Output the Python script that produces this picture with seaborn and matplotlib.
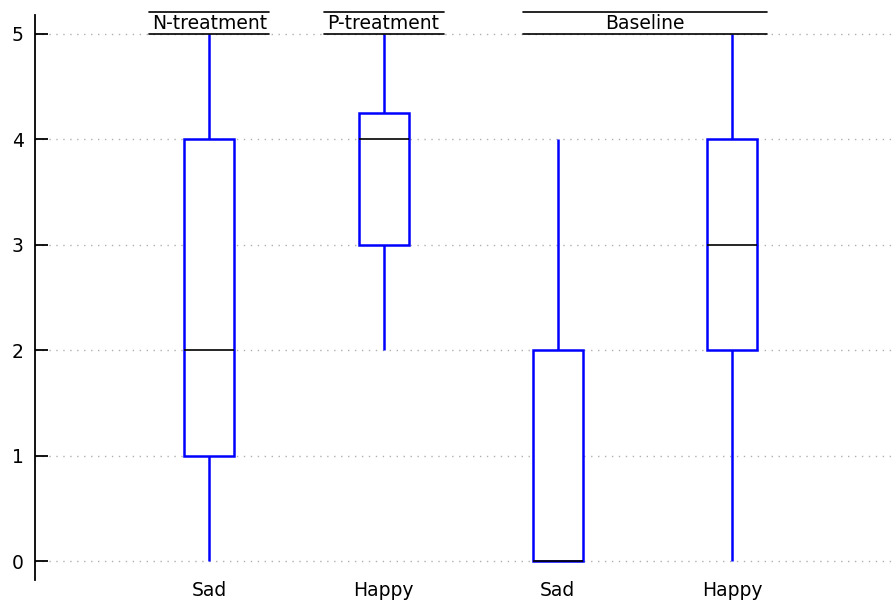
import matplotlib
matplotlib.use("Agg")
import matplotlib.pyplot as plt
import pandas as pd
import seaborn as sns

# Ratings per condition
n_sad = [0, 1, 1, 2, 2, 4, 4, 5]
p_happy = [2, 3, 3, 4, 4, 4, 5, 5]
base_sad = [0, 0, 0, 0, 0, 2, 2, 4]
base_happy = [0, 2, 2, 3, 3, 4, 4, 5]

slots = ["N-Sad", "P-Happy", "B-Sad", "B-Happy"]
tick_labels = ["Sad", "Happy", "Sad", "Happy"]
groups = ["N-treatment", "P-treatment", "Baseline"]
group_slots = [[0], [1], [2, 3]]
yticks = [0, 1, 2, 3, 4, 5]

rows = []
for slot, vals in zip(slots, [n_sad, p_happy, base_sad, base_happy]):
    rows += [(slot, v) for v in vals]
df = pd.DataFrame(rows, columns=["slot", "rating"])

sns.set_style("white")
plt.rcParams["font.family"] = ["DejaVu Sans"]
plt.rcParams["text.color"] = "black"
plt.rcParams["xtick.color"] = "black"
plt.rcParams["ytick.color"] = "black"

fs = 13.5
fig = plt.figure(figsize=(8.96, 6.04), dpi=100)
ax = fig.add_axes([35 / 896, 24 / 604, 1 - 35 / 896, (580 - 15) / 604])

blue = "#0000ff"
sns.boxplot(
    data=df, x="slot", y="rating", order=slots, ax=ax,
    width=0.287, whis=1.5, showcaps=False, showfliers=False,
    boxprops=dict(facecolor="white", edgecolor=blue, linewidth=1.8, zorder=3),
    whiskerprops=dict(color=blue, linewidth=1.8, zorder=2),
    medianprops=dict(color="black", linewidth=1.2, zorder=4),
)

ax.set_xlim(-1.0, 3.94)
ax.set_ylim(-0.18, 5.18)
ax.set_yticks(yticks)
ax.set_xticks(range(len(slots)))
ax.set_xticklabels(tick_labels, fontsize=fs)
ax.set_xlabel("")
ax.set_ylabel("")
ax.tick_params(axis="y", direction="in", length=9, width=1.3, labelsize=fs, pad=8, left=True)
ax.tick_params(axis="x", length=0, pad=1)
ax.yaxis.grid(True, linestyle=(0, (1, 4)), color="#b0b0b0", linewidth=1)
ax.set_axisbelow(True)
for side in ["top", "right", "bottom"]:
    ax.spines[side].set_visible(False)
ax.spines["left"].set_color("black")
ax.spines["left"].set_linewidth(1.3)

# Group headers with rules above and below
for name, idx in zip(groups, group_slots):
    lo, hi = min(idx), max(idx)
    half = 0.344 if lo == hi else 0.2
    x0, x1 = lo - half, hi + half
    ax.plot([x0, x1], [5, 5], color="black", lw=1.2, clip_on=False, zorder=5)
    ax.plot([x0, x1], [5.21, 5.21], color="black", lw=1.2, clip_on=False, zorder=5)
    ax.text((lo + hi) / 2, 5.01, name, ha="center", va="bottom", fontsize=fs, clip_on=False)

fig.savefig("out.png", dpi=100)
